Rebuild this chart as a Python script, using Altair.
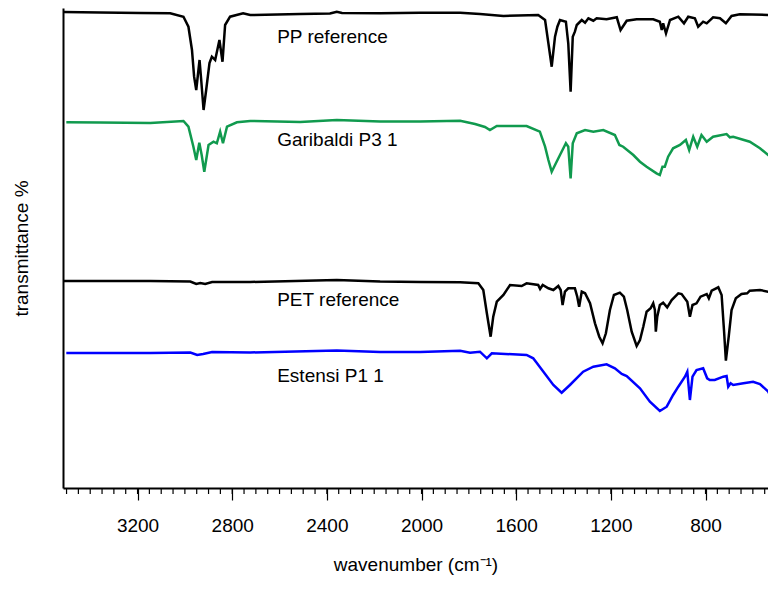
import altair as alt
import pandas as pd

# ---- spectra (wavenumber in cm-1, transmittance in arbitrary offset units) ----
pp_wn = [3514, 3358, 3189, 3062, 3006, 2985, 2970, 2961, 2952, 2938, 2931, 2921, 2910, 2896, 2886,
         2872, 2854, 2841, 2830, 2809, 2754, 2724, 2513, 2387, 2358, 2336, 2175, 2006, 1837, 1753,
         1654, 1507, 1478, 1464, 1450, 1436, 1426, 1415, 1390, 1380, 1370, 1361, 1352, 1344, 1323,
         1309, 1295, 1274, 1260, 1218, 1175, 1159, 1133, 1091, 1021, 993, 985, 979, 967, 950,
         915, 891, 873, 845, 831, 810, 795, 768, 739, 714, 690, 655, 514]
pp_t = [476, 475.5, 475, 474.7, 471.3, 461.3, 438, 411.3, 398, 428, 408, 378, 398, 425, 431.3,
        428, 448, 426.3, 463, 471.3, 474.7, 473, 474, 474.5, 476.3, 475, 474.7, 475.3, 475.3, 474,
        472, 473, 468, 444.7, 421.3, 451.3, 461.3, 468, 466.3, 444.7, 396.3, 451.3, 456.3, 463, 468,
        465.3, 469.7, 467.3, 469.7, 468.7, 470.7, 458, 467.3, 468.7, 468.7, 466.3, 458, 464.7, 454.7, 468,
        471.3, 464.7, 471.3, 469.7, 461.3, 466.3, 464.7, 470.7, 469.7, 464.7, 472, 473.7, 473]

gr_wn = [3501, 3358, 3146, 3006, 2985, 2964, 2952, 2939, 2929, 2918, 2900, 2879, 2865, 2851, 2839,
         2822, 2780, 2724, 2513, 2358, 2175, 2006, 1837, 1774, 1732, 1711, 1682, 1556, 1500, 1478,
         1464, 1450, 1436, 1415, 1390, 1380, 1370, 1361, 1344, 1309, 1274, 1232, 1183, 1164, 1148,
         1105, 1077, 1049, 1007, 993, 982, 972, 958, 937, 908, 883, 869, 852, 835, 817,
         795, 768, 711, 697, 683, 613, 570, 514]
gr_t = [365.7, 365.5, 365, 367, 361.3, 341.3, 328, 345.3, 333, 316.3, 343, 346.3, 344.7, 356.3, 344.7,
        361.3, 365.7, 367, 366, 368, 366.5, 366.5, 367.3, 364, 361, 358, 362, 362, 356.3, 341.3,
        328, 316.3, 323, 333, 344.7, 341.3, 309.7, 344.7, 354.7, 358, 356.3, 358, 353, 343, 341.3,
        333, 326.3, 321.3, 314.7, 313, 321.3, 321.3, 331.3, 339.7, 343, 348, 338, 351.3, 341.3, 353,
        346.3, 351.3, 354, 350.7, 351.3, 346.3, 339.7, 328.7]

pet_wn = [3514, 3146, 2977, 2952, 2935, 2914, 2885, 2724, 2358, 2175, 2006, 1837, 1760, 1739, 1724,
          1708, 1697, 1682, 1654, 1626, 1577, 1556, 1507, 1499, 1488, 1464, 1443, 1422, 1412, 1404,
          1394, 1380, 1352, 1342, 1334, 1323, 1309, 1288, 1267, 1249, 1235, 1221, 1204, 1187, 1162,
          1145, 1131, 1112, 1091, 1077, 1063, 1049, 1032, 1021, 1014, 1010, 1004, 993, 979, 962,
          943, 915, 901, 877, 866, 855, 838, 821, 795, 786, 774, 746, 732, 722, 714,
          702, 690, 672, 648, 624, 613, 570, 535, 514]
pet_t = [207, 207, 206.5, 204, 205, 204, 206, 206, 208, 206.5, 206, 205.7, 204.7, 198, 174.7,
         151.3, 171.3, 186.3, 193, 203, 202, 204.7, 203, 199, 203, 199.7, 198, 202, 198, 183,
         196.3, 199.7, 199.7, 191.3, 181.3, 196.3, 194.7, 184.7, 164.7, 151.3, 144.7, 154.7, 178, 193, 195.3,
         191.3, 178, 156.3, 142, 148, 161.3, 176.3, 179.7, 184.7, 178, 156.3, 171.3, 183, 185.3, 180.7,
         188, 194.7, 194, 186.3, 171.3, 183, 184.7, 191.3, 194, 189.7, 197.3, 200.7, 193, 158, 127.3,
         151.3, 178, 189.7, 194, 194.7, 197.3, 198, 196.3, 193]

bl_wn = [3501, 3146, 2977, 2948, 2923, 2885, 2724, 2358, 2175, 2006, 1837, 1795, 1753, 1724, 1703,
         1556, 1528, 1485, 1443, 1408, 1373, 1317, 1274, 1218, 1183, 1154, 1133, 1077, 1035, 993,
         964, 937, 915, 887, 877, 866, 855, 838, 810, 793, 782, 761, 725, 711, 704,
         694, 683, 640, 599, 570, 535, 517]
bl_t = [135, 135, 135.5, 133, 134, 136, 135.5, 137.5, 136, 136, 137.3, 135.3, 136.3, 129.7, 134.7,
        133, 129.7, 116.3, 103, 95.3, 103, 116.3, 121.3, 123.7, 119.7, 114, 112, 99.7, 86.3, 77,
        81.3, 93, 101.3, 111.3, 116.3, 88, 111.3, 118, 119.7, 109.7, 108, 108, 111.3, 112, 101.3,
        104.7, 103, 104.7, 106.3, 104, 96.3, 87.3]

series_names = ["PP reference", "Garibaldi P3 1", "PET reference", "Estensi P1 1"]
series_colors = ["#000000", "#109a4e", "#000000", "#0000ff"]
label_wn = [2610, 2610, 2610, 2610]
label_t = [451, 348, 188, 112]
x_major_ticks = [800, 1200, 1600, 2000, 2400, 2800, 3200]
x_minor_ticks = list(range(550, 3501, 50))

frames = []
for name, wn, t in zip(series_names, [pp_wn, gr_wn, pet_wn, bl_wn], [pp_t, gr_t, pet_t, bl_t]):
    frames.append(pd.DataFrame({"series": name, "wn": wn, "t": t}))
df = pd.concat(frames, ignore_index=True)
labels_df = pd.DataFrame({"series": series_names, "wn": label_wn, "t": label_t})
minor_df = pd.DataFrame({"wn": x_minor_ticks})

FONT = "Liberation Sans"
FS = 19

x_scale = alt.Scale(domain=[536, 3515], reverse=True, nice=False, zero=False)
y_scale = alt.Scale(domain=[0, 480], nice=False, zero=False)

x_axis = alt.Axis(
    title="wavenumber (cm⁻¹)",
    values=x_major_ticks,
    format="d",
    labelOverlap=False,
    tickSize=12,
    tickColor="black",
    tickWidth=1.2,
    domainColor="black",
    domainWidth=2,
    grid=False,
    labelFont=FONT,
    labelFontSize=FS,
    labelColor="black",
    labelPadding=16,
    titleFont=FONT,
    titleFontSize=FS,
    titleFontWeight="normal",
    titleColor="black",
    titlePadding=20,
)
y_axis = alt.Axis(
    title="transmittance %",
    ticks=False,
    labels=False,
    grid=False,
    domainColor="black",
    domainWidth=2,
    titleFont=FONT,
    titleFontSize=FS,
    titleFontWeight="normal",
    titleColor="black",
    titlePadding=32,
)

lines = alt.Chart(df).mark_line(strokeWidth=2.5, interpolate="linear").encode(
    x=alt.X("wn:Q", scale=x_scale, axis=x_axis),
    y=alt.Y("t:Q", scale=y_scale, axis=y_axis),
    color=alt.Color("series:N", scale=alt.Scale(domain=series_names, range=series_colors), legend=None),
    detail="series:N",
)

minor = alt.Chart(minor_df).mark_rule(color="black", strokeWidth=1.2, y2Offset=6).encode(
    x=alt.X("wn:Q", scale=x_scale),
    y=alt.datum(0, scale=y_scale),
    y2=alt.datum(0),
)

texts = alt.Chart(labels_df).mark_text(
    align="left", baseline="middle", font=FONT, fontSize=FS, color="black"
).encode(
    x=alt.X("wn:Q", scale=x_scale),
    y=alt.Y("t:Q", scale=y_scale),
    text="series:N",
)

chart = alt.layer(lines, minor, texts).properties(
    width=705,
    height=480,
    autosize=alt.AutoSizeParams(type="none"),
    padding={"left": 55, "top": 0, "right": 0, "bottom": 88},
    background="white",
).configure_view(stroke=None)

chart.save("out.html", embed_options={"renderer": "svg", "actions": False})
